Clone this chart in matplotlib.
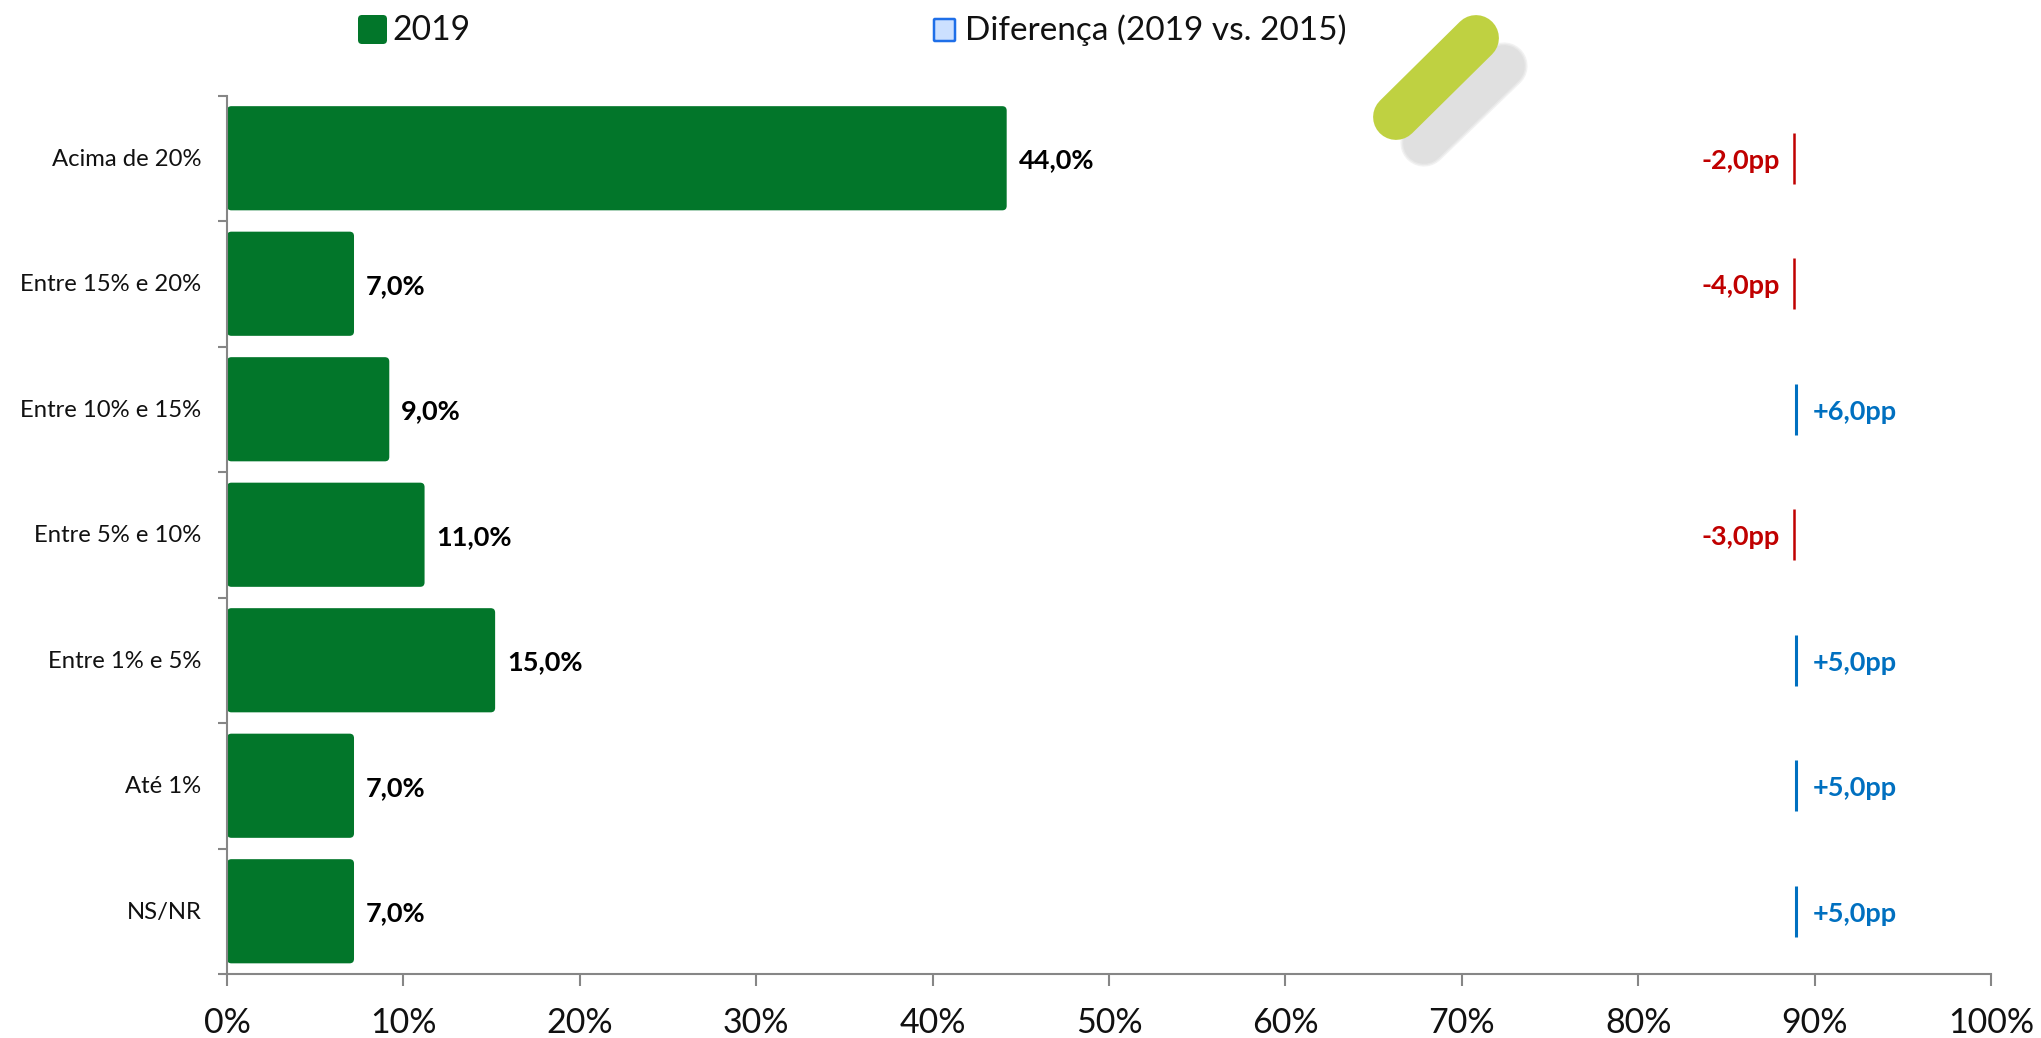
import matplotlib
matplotlib.use("Agg")
import matplotlib.pyplot as plt
from matplotlib.patches import FancyBboxPatch
from matplotlib.transforms import Affine2D

categorias = ["Acima de 20%", "Entre 15% e 20%", "Entre 10% e 15%", "Entre 5% e 10%",
              "Entre 1% e 5%", "Até 1%", "NS/NR"]
valores_2019 = [44.0, 7.0, 9.0, 11.0, 15.0, 7.0, 7.0]
diferenca = [-2.0, -4.0, 6.0, -3.0, 5.0, 5.0, 5.0]
x_ticks = [0, 10, 20, 30, 40, 50, 60, 70, 80, 90, 100]

W, H = 2041, 1038
X0, X1, Y0, Y1 = 227, 1991, 974, 95.5
VERDE = "#02762A"
VERMELHO = "#C00000"
AZUL = "#0070C0"
CINZA = "#868686"
X_DIF = 88.83

plt.rcParams["font.family"] = ["Lato", "DejaVu Sans"]

fig = plt.figure(figsize=(W / 100, H / 100), dpi=100)
ax = fig.add_axes([X0 / W, 1 - Y0 / H, (X1 - X0) / W, (Y0 - Y1) / H])
px = Affine2D().scale(1, -1).translate(0, H)

ax.set_xlim(0, 100)
ax.set_ylim(len(categorias), 0)

px_x = (X1 - X0) / 100
px_y = (Y0 - Y1) / len(categorias)

for i, v in enumerate(valores_2019):
    ax.add_patch(FancyBboxPatch((0, i + 0.085), v + 0.2, 0.83,
                                boxstyle="round,pad=0,rounding_size=0.25",
                                mutation_aspect=px_x / px_y,
                                fc=VERDE, ec="none", zorder=2))
    ax.annotate(f"{v:.1f}%".replace(".", ","), (v + 0.2, i + 0.5), xytext=(8.5, -1.7),
                textcoords="offset points", va="center", ha="left",
                fontsize=19.5, fontweight="bold", color="black")

for i, d in enumerate(diferenca):
    cor = AZUL if d > 0 else VERMELHO
    ax.plot([X_DIF + (0.1 if d > 0 else 0)] * 2, [i + 0.295, i + 0.705], color=cor,
            lw=2.2 if d > 0 else 1.8, solid_capstyle="butt", zorder=3)
    txt = f"{d:+.1f}pp".replace(".", ",")
    if d > 0:
        ax.annotate(txt, (X_DIF, i + 0.5), xytext=(13.3, -1.7), textcoords="offset points",
                    va="center", ha="left", fontsize=19.5, fontweight="bold", color=cor)
    else:
        ax.annotate(txt, (X_DIF, i + 0.5), xytext=(-10.2, -1.7), textcoords="offset points",
                    va="center", ha="right", fontsize=19.5, fontweight="bold", color=cor)

for s in ["top", "right"]:
    ax.spines[s].set_visible(False)
for s in ["left", "bottom"]:
    ax.spines[s].set_color(CINZA)
    ax.spines[s].set_linewidth(1.5)

ax.set_yticks(range(len(categorias) + 1))
ax.set_yticklabels([])
ax.tick_params(axis="y", length=6.3, width=1.5, color=CINZA)
for i, c in enumerate(categorias):
    ax.annotate(c, (0, i + 0.5), xytext=(-18.5, -0.8), textcoords="offset points",
                va="center", ha="right", fontsize=17.2, color="#111111")

ax.set_xticks(x_ticks)
ax.set_xticklabels([f"{t}%" for t in x_ticks], fontsize=24.5, color="#111111")
ax.tick_params(axis="x", length=8.5, width=1.5, color=CINZA, pad=15)

# legenda
fig.add_artist(FancyBboxPatch((358, 15), 29, 29, boxstyle="round,pad=0,rounding_size=4",
                              transform=px, fc=VERDE, ec="none"))
fig.add_artist(plt.Text(392, 30, "2019", transform=px, fontsize=24.2, va="center", ha="left",
                        color="#111111"))
fig.add_artist(FancyBboxPatch((934, 19), 21, 22, boxstyle="round,pad=0,rounding_size=1",
                              transform=px, fc="#CCE0FF", ec="#1F6FE8", lw=1.8))
fig.add_artist(plt.Text(965, 30, "Diferença (2019 vs. 2015)", transform=px, fontsize=24.0,
                        va="center", ha="left", color="#111111"))

# marca decorativa, sombra com borda suave
for lw_s, cor_s in [(34, "#F2F2F2"), (32, "#E8E8E8"), (30, "#E0E0E0")]:
    fig.add_artist(plt.Line2D([1424, 1504], [143, 66], transform=px, color=cor_s, lw=lw_s,
                              solid_capstyle="round"))
fig.add_artist(plt.Line2D([1396, 1476], [117, 38], transform=px, color="#BFD141", lw=33,
                          solid_capstyle="round"))

fig.savefig("out.png", dpi=100, facecolor="white")
